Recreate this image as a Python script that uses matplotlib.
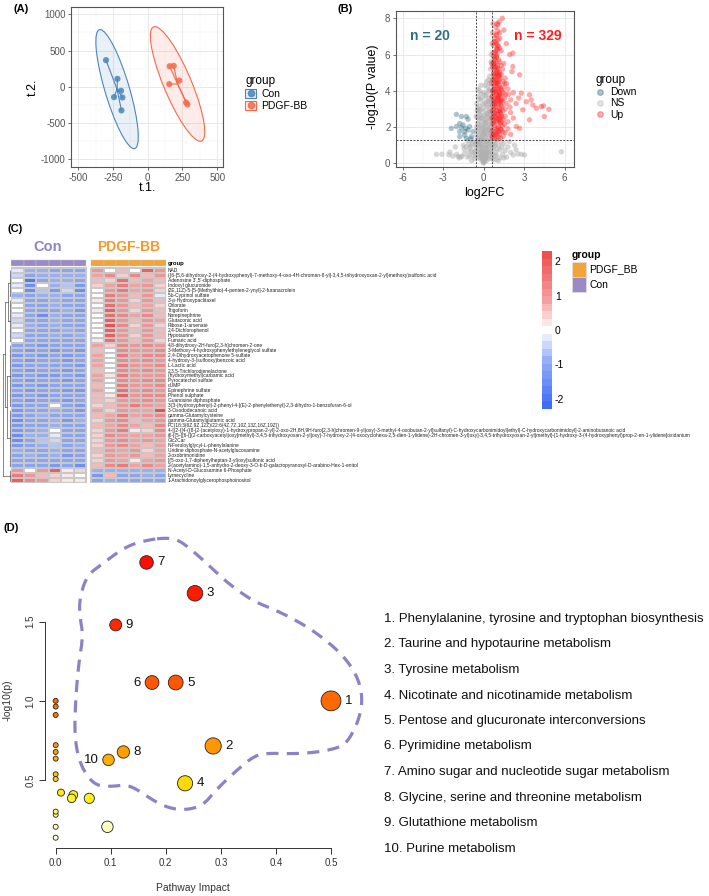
import numpy as np
import matplotlib
matplotlib.use('Agg')
import matplotlib.pyplot as plt
from matplotlib.colors import LinearSegmentedColormap, Normalize, to_rgba
from matplotlib.patches import Ellipse, Patch, Rectangle
from matplotlib.lines import Line2D
from matplotlib.legend_handler import HandlerTuple
from matplotlib.cm import ScalarMappable

plt.rcParams['font.family'] = ['Liberation Sans', 'DejaVu Sans']
plt.rcParams['axes.unicode_minus'] = False

# ---------------- data: (A) PCA scores ----------------
con_t1 = [-300, -218, -192, -182, -242, -189]
con_t2 = [367, 110, -55, -147, -142, -325]
pdgf_t1 = [158, 187, 228, 155, 276, 286]
pdgf_t2 = [284, 289, 87, 37, -216, -243]

# ---------------- data: (B) volcano ----------------
up_x = [1.38, 1.14, 1.06, 1.0, 1.5, 1.19, 0.9, 1.06, 0.8, 1.68, 0.95, 1.2, 0.75,
        1.19, 0.9, 1.0, 0.7, 1.93, 2.17, 1.3, 0.8, 0.72, 0.9, 1.1, 1.3, 0.8, 1.0,
        1.2, 1.5, 2.17, 2.1, 0.65, 1.4, 0.95, 0.7, 0.85, 1.0, 1.15, 1.3, 1.45, 1.6,
        2.67, 0.75, 0.9, 1.05, 1.2, 1.35, 1.5, 1.7, 0.65, 1.1, 1.8, 0.7, 0.8, 0.95,
        1.1, 1.25, 1.4, 1.55, 1.7, 1.85, 2.0, 2.2, 2.79, 3.4, 3.53, 3.16, 2.9, 3.65,
        3.9, 4.27, 4.44, 4.84, 0.65, 0.9, 1.05, 1.2, 1.35, 1.6, 2.4, 1.95, 2.6, 1.15,
        0.75, 0.7, 0.85, 1.0, 1.15, 1.3, 1.45, 1.6, 1.8, 2.0, 2.2, 3.4, 4.5, 0.65,
        0.8, 0.95, 1.1, 1.25, 1.4, 1.55, 2.42, 2.67, 0.9, 1.05, 0.7, 0.85, 1.0, 1.15,
        1.3, 1.45, 1.6, 1.8, 0.65, 0.8, 0.95, 1.1, 1.25, 1.4, 2.0, 0.75,
        0.72, 0.78, 0.88, 0.98, 1.08, 1.18, 1.28, 0.68, 0.82, 0.92, 1.02, 1.12, 1.22,
        0.74, 0.86, 0.96, 1.04, 1.16, 0.7, 0.84, 0.94, 1.06, 1.24, 0.76, 0.88, 1.0,
        1.12, 0.66, 0.8, 0.9, 1.02, 1.14, 0.72, 0.84, 0.98, 1.1, 0.78, 0.92, 1.04,
        0.62, 0.68, 0.74, 0.8, 0.86, 0.92, 0.98, 1.04, 1.1, 1.16, 1.22, 1.28, 1.34,
        0.64, 0.7, 0.76, 0.82, 0.88, 0.94, 1.0, 1.06, 1.12, 1.18, 1.24, 1.3, 0.66,
        0.72, 0.78, 0.84, 0.9, 0.96, 1.02, 1.08, 1.14, 1.2, 1.26, 0.63, 0.69, 0.75,
        0.81, 0.87, 0.93, 0.99, 1.05, 1.11, 1.17, 1.23, 1.29, 1.35, 1.42, 1.48, 1.55,
        1.62, 0.6, 0.6, 0.61, 0.63, 0.67, 0.7, 0.65]
up_y = [8.0, 7.8, 7.64, 7.7, 7.35, 7.2, 7.5, 6.8, 6.9, 6.6, 6.6, 6.9, 6.5,
        6.35, 6.2, 6.0, 6.1, 6.0, 6.08, 6.2, 5.8, 5.6, 5.5, 5.7, 5.4, 5.2, 5.1,
        5.0, 5.5, 5.34, 5.06, 5.3, 5.2, 5.85, 4.9, 4.7, 4.8, 4.6, 4.9, 4.5, 4.7,
        4.88, 4.3, 4.1, 4.4, 4.2, 4.0, 4.2, 4.4, 4.6, 4.95, 4.1, 3.9, 3.6, 3.8,
        3.5, 3.7, 3.4, 3.6, 3.3, 3.8, 3.5, 3.9, 3.87, 3.78, 3.5, 3.4, 2.95, 3.22,
        3.04, 3.13, 3.17, 2.98, 3.2, 3.1, 3.3, 3.0, 3.15, 3.0, 3.3, 3.1, 3.6, 3.9,
        3.4, 2.8, 2.6, 2.9, 2.5, 2.7, 2.4, 2.6, 2.3, 2.8, 2.5, 2.4, 2.58, 2.2,
        2.1, 2.3, 2.0, 2.2, 2.05, 2.15, 2.03, 1.93, 2.55, 2.7, 1.9, 1.7, 1.8, 1.6,
        1.85, 1.5, 1.7, 1.9, 1.5, 1.4, 1.35, 1.45, 1.4, 1.75, 1.6, 1.6,
        5.9, 5.3, 4.95, 4.5, 4.15, 3.75, 3.45, 4.0, 4.6, 3.95, 3.65, 3.25, 2.9,
        5.0, 4.25, 3.55, 2.45, 2.25, 2.6, 3.1, 2.75, 1.95, 2.55, 2.35, 1.55, 1.65,
        1.75, 3.7, 3.3, 4.45, 5.25, 4.85, 5.45, 5.7, 6.3, 6.45, 6.7, 7.05, 7.3,
        1.8, 2.4, 3.0, 3.3, 3.9, 4.4, 5.0, 5.4, 4.8, 4.3, 3.8, 3.2, 2.6,
        2.9, 3.5, 4.1, 4.8, 5.3, 5.9, 6.3, 5.2, 4.0, 3.4, 2.8, 2.3, 4.0,
        4.6, 5.5, 6.1, 6.7, 7.1, 6.5, 3.7, 2.9, 2.4, 1.9, 2.5, 1.6, 2.2,
        2.8, 3.4, 1.9, 2.4, 3.6, 4.5, 5.6, 4.7, 4.1, 3.5, 2.9, 3.9, 4.4,
        3.8, 3.7, 4.4, 5.5, 6.6, 7.2, 7.7, 1.4]

down_x = [-2.02, -1.65, -1.28, -1.16, -1.78, -1.53, -2.4, -2.02, -1.78, -1.41,
          -1.16, -1.78, -1.41, -1.28, -0.91, -1.04, -0.79, -1.33, -1.65, -0.95]
down_y = [2.7, 2.58, 2.58, 2.43, 2.2, 2.12, 1.93, 2.03, 1.75, 1.75,
          1.84, 1.47, 1.56, 1.38, 1.47, 2.03, 1.75, 1.93, 1.97, 1.35]

ns_x = [0, 0.05, -0.05, 0.1, -0.1, 0.15, -0.15, 0.2, -0.2, 0, 0.05, -0.05, 0.25, -0.25,
        0.3, -0.3, 0.1, -0.1, 0.35, -0.35, 0.2, -0.2, 0.4, -0.4, 0, 0.3, -0.3, 0.45,
        -0.45, 0.1, -0.1, 0.25, -0.25, 0.5, -0.5, 0, 0.35, -0.35, 0.15, -0.15, 0.45,
        -0.45, 0.3, -0.3, 0, 0.5, -0.5, 0.2, -0.2, 0.4, -0.4, 0.1, -0.1, 0.3, -0.3,
        0.5, -0.5, 0.2, -0.2, 0.4, -0.42, 0.1, 0, -0.42, -0.3, 0.3, 0.45, 0.44, 0.35,
        0.5, 0.57, 0.55, 0.2, -0.15, 0.1, 0.05, -0.05, 0.15, -0.15, 0.2, -0.2, 0.3,
        -0.3, 0.4, -0.4, 0.5, -0.5, 0.55, -0.55, 0.55, -0.55, 0.5, -0.5,
        0.7, -0.7, 0.8, -0.8, 0.9, -0.9, 1.0, -1.0, 1.1, -1.1, 0.75, -0.75, 1.2,
        -1.2, 1.4, -1.4, 1.6, -1.6, 1.8, -1.8, 2.0, -2.0, 2.2, 2.55, 3.04, 5.77,
        -3.5, -3.1, -2.6, -2.3, -1.9, -1.7, 1.3, -1.3, 1.5, -1.5, 1.9, -2.1, 2.3,
        0.9, -0.9, 1.1, 0.65, -0.65, 1.7, 2.4, 0.8, -1.2, 1.0, -0.85,
        0.02, -0.02, 0.08, -0.08, 0.12, -0.12, 0.18, -0.18, 0.22, -0.22, 0.28, -0.28,
        0.05, -0.06, 0.14, -0.14, 0.24, -0.24, 0.34, -0.34, 0.04, -0.04, 0.16, -0.16,
        0.0, 0.08, -0.08, 0.12, -0.12, 0.22, -0.22, 0.32, -0.32, 0.42, -0.42, 0.52,
        -0.52, 0.06, -0.06, 0.16, -0.16, 0.26, -0.26, 0.36, -0.36, 0.46, -0.46, 0.56,
        -0.56, 0.08, -0.08, 0.18, -0.18, 0.28, 0.38, 0.48, -0.2, 0.25, 0.4, 0.54,
        -0.54, 0.54, -0.38, 0.38, -0.45, 0.45, 0.6, -0.6, 0.65, -0.7, 0.72, -0.6,
        0.85, -0.95, 1.2, -1.1, 1.35, -1.45, 0.95, -1.05, 1.5, -2.5, 2.8, -0.02,
        0.03, -0.03, 0.09, -0.09, 0.13, -0.13, 0.19, -0.19, 0.29, -0.29, 0.39, -0.39,
        0.49, -0.49]
ns_y = [0.05, 0.1, 0.15, 0.2, 0.25, 0.3, 0.35, 0.4, 0.45, 0.3, 0.5, 0.6, 0.55, 0.6,
        0.7, 0.75, 0.8, 0.9, 0.85, 0.95, 1.0, 1.05, 1.1, 1.15, 1.2, 1.25, 1.3, 1.35,
        1.4, 1.45, 1.5, 1.6, 1.65, 1.7, 1.75, 1.8, 1.9, 1.95, 2.0, 2.1, 2.15,
        2.2, 2.3, 2.35, 2.4, 2.5, 2.55, 2.6, 2.7, 2.8, 2.85, 2.9, 3.0, 3.1, 3.15,
        3.25, 3.3, 3.4, 3.5, 3.6, 3.7, 3.75, 3.9, 4.1, 4.0, 4.2, 4.4, 4.8, 4.6,
        5.2, 6.0, 5.6, 3.2, 3.6, 4.3, 2.2, 1.3, 0.6, 0.7, 0.15, 0.2, 0.3,
        0.35, 0.45, 0.5, 0.6, 0.65, 0.8, 0.9, 1.0, 1.1, 1.25, 1.2,
        0.2, 0.25, 0.4, 0.45, 0.6, 0.65, 0.8, 0.85, 1.0, 1.05, 1.15, 1.2, 0.3,
        0.35, 0.5, 0.55, 0.7, 0.4, 0.9, 0.3, 0.6, 0.5, 0.46, 0.52, 0.46, 0.64,
        0.5, 0.5, 0.48, 0.4, 0.38, 0.36, 1.2, 0.9, 1.1, 1.0, 1.2, 0.9, 1.0,
        0.2, 0.15, 0.15, 1.0, 0.7, 0.35, 0.75, 0.95, 1.25, 1.25, 1.1,
        0.1, 0.12, 0.22, 0.28, 0.4, 0.5, 0.65, 0.7, 0.85, 0.95, 1.05, 1.1,
        1.55, 1.7, 2.3, 2.5, 2.75, 2.95, 3.45, 3.55, 2.65, 2.05, 1.85, 1.35,
        0.5, 0.35, 0.45, 0.9, 1.0, 1.2, 1.3, 1.5, 1.55, 1.8, 1.9, 2.0,
        2.0, 1.65, 1.9, 2.25, 2.45, 2.55, 2.65, 2.75, 2.95, 3.0, 3.05, 2.7,
        2.6, 3.3, 3.25, 3.7, 3.85, 3.9, 4.0, 4.1, 4.3, 4.5, 3.4, 3.5,
        1.5, 1.6, 1.25, 0.6, 0.3, 0.25, 0.35, 0.4, 0.55, 0.6, 0.8, 1.0,
        1.05, 0.95, 0.75, 0.65, 0.9, 0.8, 0.45, 0.4, 0.3, 0.62, 0.5, 0.02,
        0.2, 0.25, 0.55, 0.65, 1.25, 1.4, 1.75, 1.8, 2.05, 2.15, 2.45, 2.5,
        2.85, 2.9]

# ---------------- data: (C) heatmap ----------------
metabolites = [
    'NAD',
    '({6-[5,6-dihydroxy-2-(4-hydroxyphenyl)-7-methoxy-4-oxo-4H-chromen-8-yl]-3,4,5-trihydroxyoxan-2-yl}methoxy)sulfonic acid',
    "Adenosine 3',5'-diphosphate",
    'Indoxyl glucuronide',
    '(2E,11Z)-5-[5-(Methylthio)-4-penten-2-ynyl]-2-furanacrolein',
    '5b-Cyprinol sulfate',
    "3'-p-Hydroxypaclitaxel",
    'Chlorate',
    'Trigoforin',
    'Norepinephrine',
    'Glutaconic acid',
    'Ribose-1-arsenate',
    '2,4-Dichlorophenol',
    'Hypotaurine',
    'Fumaric acid',
    '4,8-dihydroxy-2H-furo[2,3-h]chromen-2-one',
    '3-Methoxy-4-hydroxyphenylethyleneglycol sulfate',
    '2,4-Dihydroxyacetophenone 5-sulfate',
    '4-hydroxy-3-(sulfooxy)benzoic acid',
    'L-Lactic acid',
    '2,3,5-Trichlorodienelactone',
    '(hydroxymethyl)carbamic acid',
    'Pyrocatechol sulfate',
    'dUMP',
    'Epinephrine sulfate',
    'Phenol sulphate',
    'Guanosine diphosphate',
    '3-[3-(hydroxyphenyl)-2-phenyl-4-[(E)-2-phenylethenyl]-2,3-dihydro-1-benzofuran-6-ol',
    '3-Oxododecanoic acid',
    'gamma-Glutamylcysteine',
    'gamma-Glutamylglutamic acid',
    'PC(18:3(6Z,9Z,12Z)/22:6(4Z,7Z,10Z,13Z,16Z,19Z))',
    '4-[(2-{[4-({8-[2-(acetyloxy)-1-hydroxypropan-2-yl]-2-oxo-2H,8H,9H-furo[2,3-h]chromen-9-yl}oxy)-3-methyl-4-oxobutan-2-yl]sulfanyl}-C-hydroxycarbonimidoyl}ethyl)-C-hydroxycarbonimidoyl]-2-aminobutanoic acid',
    '{6-[(5-{[6-{[(2-carboxyacetyl)oxy]methyl}-3,4,5-trihydroxyoxan-2-yl]oxy}-7-hydroxy-2-(4-oxocyclohexa-2,5-dien-1-ylidene)-2H-chromen-3-yl)oxy]-3,4,5-trihydroxyoxan-2-yl}methyl}-[1-hydroxy-3-(4-hydroxyphenyl)prop-2-en-1-ylidene]oxidanium',
    'Glc2Car',
    'N-Feruloylglycyl-L-phenylalanine',
    'Uridine diphosphate-N-acetylglucosamine',
    '2-oxobrimonidine',
    '[(5-oxo-1,7-diphenylheptan-3-yl)oxy]sulfonic acid',
    '2-(acetylamino)-1,5-anhydro-2-deoxy-3-O-b-D-galactopyranosyl-D-arabino-Hex-1-enitol',
    'N-Acetyl-D-Glucosamine 6-Phosphate',
    'Lymecycline',
    '1-Arachidonoylglycerophosphoinositol',
]

con_vals = [
    [-0.2, -0.8, -0.9, -1.0, -1.0, -1.0],
    [-0.4, -1.0, -0.8, -0.9, -0.8, -0.9],
    [0.1, -1.9, -1.0, -0.8, -0.9, -1.2],
    [-0.3, -1.5, 0.0, -0.9, -0.7, -1.3],
    [0.1, -1.5, -0.6, -1.3, -0.5, -1.6],
    [-0.8, -1.0, -0.9, -0.8, -1.0, -1.0],
    [-0.3, -1.1, -1.0, -0.9, -1.0, -1.1],
    [0.1, -1.0, -1.1, -0.8, -1.1, -1.0],
    [0.0, -1.1, -1.0, -1.0, -0.9, -1.3],
    [-0.3, -1.0, -1.5, -0.9, -1.0, -1.1],
    [-0.4, -1.1, -1.0, -0.9, -1.1, -1.0],
    [-0.3, -0.9, -1.0, -0.8, -1.0, -1.0],
    [-0.1, -1.0, -1.1, -1.0, -0.9, -1.1],
    [-0.4, -1.1, -1.0, -0.9, -1.1, -0.9],
    [0.1, -1.0, -1.1, -1.0, -1.0, -1.1],
    [-1.0, -1.1, -1.3, -1.0, -1.1, -1.0],
    [-1.1, -1.3, -1.1, -1.4, -1.1, -1.3],
    [-1.3, -1.1, -1.3, -1.0, -1.3, -1.1],
    [-1.1, -1.4, -1.0, -1.1, -1.3, -1.1],
    [-1.4, -1.1, -1.1, -1.0, -1.1, -1.4],
    [-1.1, -1.3, -1.0, -1.1, -1.4, -1.1],
    [-1.3, -1.1, -1.3, -1.3, -1.0, -1.3],
    [-1.0, -1.3, -1.1, -1.1, -1.3, -1.0],
    [-1.3, -1.1, -1.4, -1.0, -1.1, -1.1],
    [-1.1, -1.3, -1.1, -1.1, -1.3, -1.3],
    [-1.3, -1.0, -1.3, -1.1, -1.1, -1.1],
    [-1.0, -1.4, -1.1, -1.0, -1.3, -1.0],
    [-1.4, -1.1, -1.0, 0.0, -1.1, -1.3],
    [-1.3, -1.0, -1.1, -0.9, -1.0, -1.4],
    [-1.4, -1.1, -0.9, -1.0, -1.1, -1.0],
    [-1.5, -1.0, -1.1, -0.8, -1.3, -0.9],
    [-1.3, -1.1, -1.1, -0.9, -1.1, -1.0],
    [-1.4, -1.0, -0.8, 0.0, -1.0, -1.1],
    [-1.6, -0.9, -0.8, -0.3, -1.1, -1.0],
    [-1.5, -1.1, -0.6, -0.4, -1.0, -1.1],
    [-1.3, -1.0, -0.9, -0.6, -1.1, -0.9],
    [-0.8, -1.0, -1.1, -0.9, -1.0, -1.0],
    [-1.1, -0.9, -1.0, -0.8, -1.3, -1.0],
    [-1.1, -1.0, -1.1, -1.0, -1.0, -1.1],
    [-1.0, -1.1, -1.0, -1.3, -1.1, -1.5],
    [1.0, 0.1, 1.0, 2.0, 0.3, 0.4],
    [1.6, 1.1, 0.6, 0.4, 0.3, 0.1],
    [1.9, 1.3, 1.1, 0.5, 0.3, 0.3],
]
pdgf_vals = [
    [1.1, 0.1, 0.6, 0.0, 1.9, 1.0],
    [0.8, 1.3, 0.5, 1.3, 0.6, 1.1],
    [0.6, 0.4, 1.8, 0.6, 0.8, 0.6],
    [0.4, 0.8, 1.5, 0.8, 1.1, 0.4],
    [0.0, 1.0, 1.6, 0.8, 1.1, 0.5],
    [0.1, 1.5, 1.0, 0.6, 1.0, -0.3],
    [0.3, 1.6, 1.0, 0.5, 1.0, 0.6],
    [0.1, 1.8, 1.1, 0.6, 0.9, 0.5],
    [0.3, 1.9, 1.1, 0.5, 1.1, 0.6],
    [0.1, 1.8, 1.3, 0.8, 1.3, 0.6],
    [-0.1, 2.0, 1.1, 0.6, 1.0, 0.8],
    [0.1, 2.1, 1.3, 0.5, 1.1, 0.5],
    [0.0, 2.0, 1.1, 0.6, 1.1, 0.6],
    [0.1, 1.9, 1.0, 0.5, 1.0, 0.6],
    [0.3, 1.8, 1.1, 0.6, 1.0, 0.5],
    [0.8, 0.4, 1.3, 1.0, 1.3, 1.1],
    [0.6, -0.1, 1.4, 1.0, 1.1, 1.3],
    [0.8, 0.0, 1.5, 0.9, 1.3, 1.3],
    [0.9, 0.1, 1.4, 1.0, 1.3, 1.1],
    [0.8, 0.0, 1.5, 1.1, 1.1, 1.3],
    [0.6, 0.1, 1.4, 1.0, 1.3, 1.1],
    [0.8, 0.3, 1.5, 1.0, 1.1, 1.1],
    [0.8, 0.0, 1.4, 1.1, 1.3, 1.3],
    [0.6, 0.1, 1.6, 1.0, 1.1, 1.3],
    [0.8, 0.0, 1.8, 1.0, 1.3, 1.1],
    [0.6, 0.3, 2.0, 1.1, 1.3, 1.3],
    [0.6, 0.4, 1.1, 1.0, 1.4, 1.0],
    [0.5, 0.6, 1.0, 1.6, 1.0, 0.9],
    [0.8, 0.5, 1.0, 0.8, 0.9, 2.2],
    [0.6, 0.9, 1.5, 0.8, 1.0, 1.4],
    [0.5, 1.0, 1.3, 0.6, 0.8, 1.1],
    [0.6, 0.8, 1.4, 0.9, 0.6, 1.3],
    [0.4, 1.1, 1.5, 0.3, 0.4, 1.3],
    [0.5, 1.3, 1.1, 0.8, 0.9, 1.0],
    [0.4, 1.1, 1.3, 0.9, 1.0, 0.8],
    [0.5, 1.0, 1.4, 0.8, 0.6, 0.8],
    [0.6, 1.1, 0.8, 1.0, 0.5, 0.8],
    [0.4, 1.0, 0.9, 1.1, 0.6, 0.9],
    [0.5, 1.1, 0.9, 0.3, 0.8, 1.0],
    [0.6, 1.3, 1.5, 0.9, 1.4, 0.8],
    [-0.8, -0.8, -0.8, -0.9, -0.8, -0.8],
    [-1.3, 0.6, -1.0, -1.0, -0.9, -1.0],
    [-1.1, -0.9, -1.1, -1.0, -1.0, -1.1],
]

# ---------------- data: (D) pathway analysis ----------------
impact = [0.5, 0.286, 0.253, 0.235, 0.218, 0.175, 0.165, 0.123, 0.109, 0.096,
          0.0, 0.0, 0.0, 0.0, 0.0, 0.0, 0.0, 0.0, 0.0, 0.0, 0.0, 0.0,
          0.0096, 0.032, 0.029, 0.061, 0.094]
logp = [1.0, 0.715, 1.68, 0.479, 1.116, 1.116, 1.875, 0.677, 1.48, 0.627,
        1.0, 0.964, 0.911, 0.72, 0.677, 0.635, 0.536, 0.506, 0.30, 0.28, 0.204, 0.135,
        0.42, 0.405, 0.384, 0.384, 0.204]
point_labels = ['1', '2', '3', '4', '5', '6', '7', '8', '9', '10']
label_side = [1, 1, 1, 1, 1, -1, 1, 1, 1, -1]
pathways = [
    'Phenylalanine, tyrosine and tryptophan biosynthesis',
    'Taurine and hypotaurine metabolism',
    'Tyrosine metabolism',
    'Nicotinate and nicotinamide metabolism',
    'Pentose and glucuronate interconversions',
    'Pyrimidine metabolism',
    'Amino sugar and nucleotide sugar metabolism',
    'Glycine, serine and threonine metabolism',
    'Glutathione metabolism',
    'Purine metabolism',
]
contour_x = [0.171, 0.201, 0.22, 0.238, 0.268, 0.298, 0.322, 0.359, 0.395, 0.431,
             0.474, 0.522, 0.549, 0.558, 0.549, 0.528, 0.51, 0.474, 0.431, 0.383,
             0.359, 0.322, 0.292, 0.268, 0.238, 0.207, 0.177, 0.153, 0.129, 0.105,
             0.08, 0.062, 0.044, 0.035, 0.035, 0.041, 0.05, 0.044, 0.043, 0.056,
             0.086, 0.129]
contour_y = [2.02, 2.03, 2.02, 1.98, 1.89, 1.79, 1.72, 1.63, 1.58, 1.52,
             1.43, 1.29, 1.15, 1.006, 0.86, 0.73, 0.70, 0.675, 0.665, 0.67,
             0.65, 0.54, 0.44, 0.34, 0.31, 0.32, 0.37, 0.43, 0.47, 0.46,
             0.46, 0.50, 0.605, 0.75, 0.94, 1.22, 1.41, 1.53, 1.64, 1.79,
             1.87, 1.98]

W, H = 709, 896
fig = plt.figure(figsize=(W / 100, H / 100), dpi=100)


def box(l, t, r, b):
    return [l / W, 1 - b / H, (r - l) / W, (b - t) / H]


def ftext(x, y, s, **kw):
    fig.text(x / W, 1 - y / H, s, **kw)


def gg_axes(ax, xmaj, xmin, ymaj, ymin):
    ax.set_xticks(xmaj)
    ax.set_xticks(xmin, minor=True)
    ax.set_yticks(ymaj)
    ax.set_yticks(ymin, minor=True)
    ax.grid(which='major', color='#E5E5E5', lw=0.6)
    ax.grid(which='minor', color='#F0F0F0', lw=0.35)
    ax.set_axisbelow(True)
    for s in ax.spines.values():
        s.set_color('#555555')
        s.set_linewidth(0.8)
    ax.tick_params(which='major', length=2.5, width=0.6, color='#555555',
                   labelsize=7, labelcolor='#555555', pad=1.5)
    ax.tick_params(which='minor', length=0)


# ---------------- panel A ----------------
axA = fig.add_axes(box(71, 7, 223, 167))
gg_axes(axA, [-500, -250, 0, 250, 500], [-375, -125, 125, 375],
        [-1000, -500, 0, 500, 1000], [-750, -250, 250, 750])
axA.set_xlim(-552, 542)
axA.set_ylim(-1105, 1100)
groupsA = [('Con', con_t1, con_t2, '#4A86BC'), ('PDGF-BB', pdgf_t1, pdgf_t2, '#F46A4B')]
radius = np.sqrt(2 * 5.786)  # t-based 95% ellipse, n = 6
handlesA = []
for name, xs, ys, col in groupsA:
    xs = np.array(xs, float)
    ys = np.array(ys, float)
    cx, cy = xs.mean(), ys.mean()
    vals, vecs = np.linalg.eigh(np.cov(xs, ys))
    ang = np.degrees(np.arctan2(vecs[1, 1], vecs[0, 1]))
    axA.add_patch(Ellipse((cx, cy), 2 * radius * np.sqrt(vals[1]), 2 * radius * np.sqrt(vals[0]),
                          angle=ang, facecolor=to_rgba(col, 0.12), edgecolor=col, lw=0.8))
    for x, y in zip(xs, ys):
        axA.plot([cx, x], [cy, y], color=col, lw=0.8)
    axA.scatter(xs, ys, s=20, color=col, alpha=0.85, edgecolor='none', zorder=3)
    handlesA.append((Patch(facecolor=to_rgba(col, 0.15), edgecolor=col, lw=0.8),
                     Line2D([], [], ls='none', marker='o', ms=4.5, color=col, alpha=0.85)))
ftext(33, 87, 't.2.', fontsize=9, rotation=90, ha='center', va='center')
ftext(147, 188, 't.1.', fontsize=9, ha='center', va='center')
legA = fig.legend(handlesA, ['Con', 'PDGF-BB'], title='group', loc='upper left',
                  bbox_to_anchor=(236 / W, 1 - 66 / H), frameon=False, fontsize=7.5,
                  title_fontsize=8.5, handler_map={tuple: HandlerTuple(ndivide=1, pad=0)},
                  handlelength=1.0, handleheight=1.0, handletextpad=0.5, labelspacing=0.15)
legA._legend_box.align = 'left'

# ---------------- panel B ----------------
axB = fig.add_axes(box(396, 11, 574, 167))
gg_axes(axB, [-6, -3, 0, 3, 6], [-4.5, -1.5, 1.5, 4.5], [0, 2, 4, 6, 8], [1, 3, 5, 7])
axB.set_xlim(-6.5, 6.7)
axB.set_ylim(-0.2, 8.4)
down_col, ns_col, up_col = '#2E6E86', '#B0B0B0', '#FF1E1E'
axB.scatter(ns_x, ns_y, s=15, color=ns_col, alpha=0.5, edgecolor='none')
axB.scatter(down_x, down_y, s=15, color=down_col, alpha=0.4, edgecolor='none')
axB.scatter(up_x, up_y, s=15, color=up_col, alpha=0.38, edgecolor='none')
for v in (-np.log2(1.5), np.log2(1.5)):
    axB.axvline(v, color='#444444', ls=(0, (2, 1.5)), lw=0.7)
axB.axhline(-np.log10(0.05), color='#444444', ls=(0, (2, 1.5)), lw=0.7)
axB.text(-4.0, 7.0, 'n = %d' % len(down_x), color=down_col, fontsize=10,
         fontweight='bold', ha='center', va='center')
axB.text(4.0, 7.0, 'n = 329', color=up_col, fontsize=10, fontweight='bold',
         ha='center', va='center')
ftext(373, 87, '-log10(P value)', fontsize=9, rotation=90, ha='center', va='center')
ftext(484, 193, 'log2FC', fontsize=9, ha='center', va='center')
handlesB = [Line2D([], [], ls='none', marker='o', ms=4, color=c, alpha=a)
            for c, a in ((down_col, 0.4), (ns_col, 0.35), (up_col, 0.35))]
legB = fig.legend(handlesB, ['Down', 'NS', 'Up'], title='group', loc='upper left',
                  bbox_to_anchor=(586 / W, 1 - 65 / H), frameon=False, fontsize=7.5,
                  title_fontsize=8.5, handlelength=0.8, handletextpad=0.6, labelspacing=0.1)
legB._legend_box.align = 'left'

# ---------------- panel C ----------------
con_col_c, pdgf_col_c = '#9A8BC6', '#F2A33A'
heat_cmap = LinearSegmentedColormap.from_list(
    'bwr2', [(0.0, '#3F6EF6'), (0.3, '#97AFF6'), (0.5, '#FFFFFF'), (0.7, '#F4A0A0'),
             (1.0, '#EE5050')]).resampled(21)
heat_norm = Normalize(-2.3, 2.3)
nrow = len(metabolites)
gap = 0.4
axC = fig.add_axes(box(11, 258, 166, 258 + 5 * (nrow + 2)))
axC.set_xlim(0, 12 + gap)
axC.set_ylim(nrow, -2)
axC.axis('off')
axC.pcolormesh(np.arange(7), np.arange(nrow + 1), np.array(con_vals), cmap=heat_cmap,
               norm=heat_norm, edgecolors='#C8C8C8', linewidth=0.25)
axC.pcolormesh(np.arange(7) + 6 + gap, np.arange(nrow + 1), np.array(pdgf_vals),
               cmap=heat_cmap, norm=heat_norm, edgecolors='#C8C8C8', linewidth=0.25)
for j in range(6):
    axC.add_patch(Rectangle((j, -1.6), 1, 1.2, facecolor=con_col_c, edgecolor='#C8C8C8', lw=0.3))
    axC.add_patch(Rectangle((j + 6 + gap, -1.6), 1, 1.2, facecolor=pdgf_col_c,
                            edgecolor='#C8C8C8', lw=0.3))
axC.text(12 + gap + 0.15, -1.0, 'group', fontsize=4.2, fontweight='bold', va='center',
         ha='left', clip_on=False)
for i, name in enumerate(metabolites):
    axC.text(12 + gap + 0.15, i + 0.5, name, fontsize=3.55, va='center', ha='left',
             clip_on=False, color='#222222')
ftext(48, 247, 'Con', fontsize=10.5, fontweight='bold', color='#8E84C4', ha='center', va='center')
ftext(129, 247, 'PDGF-BB', fontsize=10, fontweight='bold', color='#F39A2B', ha='center', va='center')

# row dendrogram (simple tree over row blocks)
axDen = fig.add_axes(box(0, 258, 11, 258 + 5 * (nrow + 2)))
axDen.set_xlim(0, 11)
axDen.set_ylim(nrow, -2)
axDen.axis('off')
blocks = [(0, 6), (6, 15), (15, 28), (28, 40), (40, 43)]
mids = [(a + b) / 2 for a, b in blocks]
dc = '#555555'
for (a, b), m in zip(blocks, mids):
    axDen.plot([11, 9.5], [m, m], color=dc, lw=0.5)
    axDen.plot([9.5, 9.5], [a + 0.5, b - 0.5], color=dc, lw=0.5)
    for r in range(a, b):
        axDen.plot([11, 9.5], [r + 0.5, r + 0.5], color=dc, lw=0.3)
m01 = (mids[0] + mids[1]) / 2
m23 = (mids[2] + mids[3]) / 2
m03 = (m01 + m23) / 2
axDen.plot([9.5, 8], [mids[0], mids[0]], color=dc, lw=0.5)
axDen.plot([9.5, 8], [mids[1], mids[1]], color=dc, lw=0.5)
axDen.plot([8, 8], [mids[0], mids[1]], color=dc, lw=0.5)
axDen.plot([9.5, 7], [mids[2], mids[2]], color=dc, lw=0.5)
axDen.plot([9.5, 7], [mids[3], mids[3]], color=dc, lw=0.5)
axDen.plot([7, 7], [mids[2], mids[3]], color=dc, lw=0.5)
axDen.plot([8, 5], [m01, m01], color=dc, lw=0.5)
axDen.plot([7, 5], [m23, m23], color=dc, lw=0.5)
axDen.plot([5, 5], [m01, m23], color=dc, lw=0.5)
axDen.plot([5, 2.5], [m03, m03], color=dc, lw=0.5)
axDen.plot([9.5, 2.5], [mids[4], mids[4]], color=dc, lw=0.5)
axDen.plot([2.5, 2.5], [m03, mids[4]], color=dc, lw=0.5)

cax = fig.add_axes(box(542, 251, 552, 409))
cb = fig.colorbar(ScalarMappable(norm=heat_norm, cmap=heat_cmap), cax=cax, ticks=[-2, -1, 0, 1, 2])
cb.outline.set_visible(False)
cax.tick_params(length=0, labelsize=7.5, pad=2)
ftext(572, 255, 'group', fontsize=7.5, fontweight='bold', ha='left', va='center')
for k, (lab, col) in enumerate((('PDGF_BB', pdgf_col_c), ('Con', con_col_c))):
    y0 = 262 + 15 * k
    fig.add_artist(Rectangle((572 / W, 1 - (y0 + 15) / H), 14 / W, 15 / H, facecolor=col,
                             edgecolor='#E0E0E0', lw=0.5, transform=fig.transFigure))
    ftext(589, y0 + 7.5, lab, fontsize=7.5, ha='left', va='center')

# ---------------- panel D ----------------
axD = fig.add_axes(box(45, 530, 342, 848))
axD.set_xlim(-0.0194, 0.52)
axD.set_ylim(0.07, 2.08)
heat2 = LinearSegmentedColormap.from_list(
    'heat2', [(0.0, '#FFFFF4'), (0.06, '#FFFFC0'), (0.17, '#FFEE10'), (0.25, '#FFC000'),
              (0.33, '#FF9A00'), (0.5, '#FF6A00'), (0.58, '#FF5200'), (0.72, '#FF3000'),
              (1.0, '#FF0A00')])
pnorm = Normalize(0.1, 1.9)
imp = np.array(impact)
diam_px = 5 + 21 * np.sqrt(imp)
order = np.argsort(-diam_px)
axD.scatter(imp[order], np.array(logp)[order], s=(diam_px[order] * 0.72) ** 2,
            c=np.array(logp)[order], cmap=heat2, norm=pnorm, edgecolors='#222222',
            linewidths=0.6, zorder=3, clip_on=False)
for k, lab in enumerate(point_labels):
    off = (diam_px[k] / 2 + 4) * 0.72 * label_side[k]
    axD.annotate(lab, (impact[k], logp[k]), xytext=(off, 0), textcoords='offset points',
                 ha='left' if label_side[k] > 0 else 'right', va='center', fontsize=9.5,
                 color='#111111')

# smooth the hand-drawn outline (closed Chaikin smoothing)
pts = np.column_stack([contour_x, contour_y])
for _ in range(3):
    nxt = np.roll(pts, -1, axis=0)
    pts = np.vstack([np.column_stack([0.75 * pts[:, 0] + 0.25 * nxt[:, 0],
                                      0.75 * pts[:, 1] + 0.25 * nxt[:, 1]]),
                     np.column_stack([0.25 * pts[:, 0] + 0.75 * nxt[:, 0],
                                      0.25 * pts[:, 1] + 0.75 * nxt[:, 1]])]
                    ).reshape(2, -1, 2).transpose(1, 0, 2).reshape(-1, 2)
pts = np.vstack([pts, pts[:1]])
axD.plot(pts[:, 0], pts[:, 1], color='#8A84C6', lw=2.3, ls=(0, (3.8, 2.6)),
         solid_capstyle='butt', clip_on=False, zorder=2)

for s in ('top', 'right'):
    axD.spines[s].set_visible(False)
axD.spines['left'].set_bounds(0.5, 1.5)
axD.spines['bottom'].set_bounds(0, 0.5)
for s in ('left', 'bottom'):
    axD.spines[s].set_color('#333333')
    axD.spines[s].set_linewidth(0.7)
axD.set_xticks([0, 0.1, 0.2, 0.3, 0.4, 0.5])
axD.set_xticklabels(['0.0', '0.1', '0.2', '0.3', '0.4', '0.5'])
axD.set_yticks([0.5, 1.0, 1.5])
axD.set_yticklabels(['0.5', '1.0', '1.5'], rotation=90, va='center')
axD.tick_params(length=4, width=0.7, color='#333333', labelsize=7, labelcolor='#333333', pad=3)
ftext(8, 700, '-log10(p)', fontsize=7.5, rotation=90, ha='center', va='center', color='#333333')
ftext(193, 888, 'Pathway Impact', fontsize=7.5, ha='center', va='center', color='#333333')

for k, pw in enumerate(pathways):
    ftext(384, 619 + 25.5 * k, '%d. %s' % (k + 1, pw), fontsize=9.5, ha='left', va='center',
          color='#111111')

# panel tags
ftext(14, 9, '(A)', fontsize=8, fontweight='bold', va='center')
ftext(338, 9, '(B)', fontsize=8, fontweight='bold', va='center')
ftext(8, 229, '(C)', fontsize=8, fontweight='bold', va='center')
ftext(4, 528, '(D)', fontsize=8, fontweight='bold', va='center')

fig.savefig('out.png', dpi=100)
